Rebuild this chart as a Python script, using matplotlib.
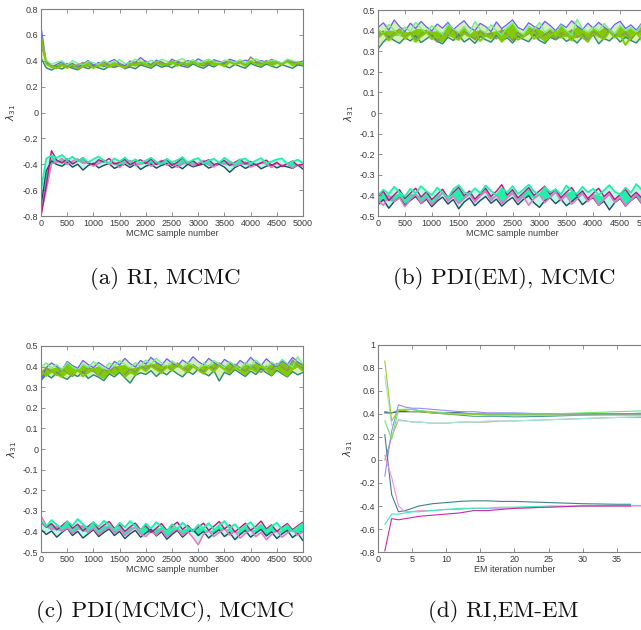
import numpy as np
import matplotlib
matplotlib.use('Agg')
import matplotlib.pyplot as plt
from matplotlib.ticker import FuncFormatter, MultipleLocator

plt.rcParams['axes.unicode_minus'] = False
plt.rcParams['font.family'] = ['Liberation Sans', 'DejaVu Sans']
plt.rcParams['mathtext.fontset'] = 'dejavusans'

# ---- panel (a): RI, MCMC  (values in 1/1000, one every 100 samples) ----
A_TOP_TEAL = [420, 345, 328, 352, 336, 360, 342, 330, 355, 338, 362, 345, 332, 358, 348, 365, 340, 352, 338, 368, 355, 342, 370, 350, 362, 345, 372, 358, 348, 375, 355, 342, 368, 352, 378, 360, 345, 372, 356, 342, 380, 362, 350, 375, 358, 345, 370, 355, 342, 368, 360]
A_TOP_BLUE = [660, 385, 350, 372, 395, 358, 380, 348, 375, 402, 365, 388, 355, 392, 410, 378, 362, 398, 385, 425, 392, 370, 405, 388, 372, 412, 390, 378, 402, 385, 415, 392, 375, 408, 395, 380, 412, 398, 385, 405, 392, 378, 402, 388, 410, 395, 380, 405, 392, 385, 398]
A_TOP_GRAY = [520, 395, 365, 340, 372, 380, 352, 368, 388, 358, 345, 375, 392, 362, 350, 380, 338, 365, 390, 372, 398, 362, 382, 392, 358, 378, 402, 372, 362, 395, 385, 360, 378, 400, 370, 388, 405, 372, 392, 365, 430, 395, 375, 402, 368, 385, 374, 405, 388, 370, 395]
A_TOP_LIGHT = [560, 405, 372, 390, 398, 365, 402, 380, 368, 395, 385, 372, 402, 380, 392, 410, 378, 385, 412, 395, 380, 405, 388, 412, 398, 382, 402, 418, 390, 408, 382, 398, 412, 395, 378, 405, 400, 385, 410, 382, 398, 415, 392, 385, 405, 398, 380, 412, 400, 390, 385]
A_TOP_GREEN = [590, 375, 352, 342, 365, 345, 370, 338, 358, 375, 345, 362, 370, 350, 382, 358, 348, 378, 362, 388, 370, 355, 392, 365, 375, 395, 360, 385, 370, 392, 362, 380, 398, 365, 378, 355, 390, 372, 385, 360, 395, 375, 365, 390, 362, 382, 372, 395, 365, 388, 375]
A_BOT_DARK = [-720, -450, -375, -402, -415, -385, -422, -400, -445, -410, -392, -428, -408, -395, -432, -412, -400, -425, -398, -440, -415, -398, -430, -408, -395, -428, -410, -435, -400, -420, -408, -398, -430, -412, -400, -422, -462, -425, -405, -432, -412, -400, -435, -415, -402, -428, -410, -420, -432, -405, -438]
A_BOT_PINK = [-780, -600, -395, -385, -355, -402, -375, -358, -392, -380, -415, -395, -368, -402, -385, -425, -392, -370, -410, -398, -378, -415, -392, -370, -408, -388, -422, -398, -380, -412, -392, -370, -405, -420, -385, -400, -378, -415, -402, -382, -422, -405, -385, -398, -425, -392, -408, -398, -430, -402, -415]
A_BOT_MAGENTA = [-800, -560, -295, -368, -390, -358, -398, -375, -350, -392, -402, -365, -382, -355, -398, -385, -362, -405, -380, -365, -395, -358, -402, -378, -362, -408, -385, -350, -395, -372, -405, -382, -365, -402, -390, -370, -410, -385, -362, -398, -378, -405, -390, -368, -410, -385, -418, -395, -375, -410, -398]
A_BOT_CYAN = [-600, -355, -335, -350, -328, -368, -342, -375, -350, -385, -360, -340, -372, -392, -355, -378, -348, -385, -362, -392, -370, -350, -382, -398, -358, -385, -368, -345, -390, -365, -352, -395, -372, -358, -388, -350, -378, -398, -365, -355, -392, -372, -352, -395, -378, -362, -355, -398, -380, -365, -390]

# ---- panel (b): PDI(EM), MCMC ----
B_TOP_TEAL = [310, 345, 372, 352, 338, 366, 350, 375, 342, 360, 378, 348, 336, 368, 352, 380, 345, 362, 338, 372, 356, 344, 376, 350, 365, 340, 372, 358, 346, 380, 352, 338, 368, 355, 374, 348, 362, 340, 370, 354, 380, 336, 362, 350, 375, 345, 368, 352, 340, 372, 358]
B_TOP_BLUE = [415, 438, 402, 452, 420, 395, 436, 410, 445, 418, 398, 432, 412, 440, 405, 428, 448, 415, 400, 435, 420, 395, 442, 410, 430, 452, 416, 402, 438, 420, 408, 445, 425, 400, 432, 415, 448, 422, 405, 436, 412, 440, 418, 398, 430, 446, 410, 428, 402, 436, 420]
B_TOP_GRAY = [372, 398, 360, 385, 408, 366, 392, 355, 380, 402, 370, 345, 388, 376, 410, 362, 395, 382, 356, 400, 372, 388, 360, 405, 378, 352, 394, 370, 386, 412, 365, 380, 398, 358, 390, 374, 404, 368, 385, 352, 396, 378, 362, 408, 384, 370, 392, 356, 388, 400, 375]
B_TOP_LIGHT = [405, 385, 430, 402, 376, 418, 395, 440, 410, 388, 425, 400, 380, 432, 408, 392, 420, 385, 445, 405, 390, 428, 400, 378, 415, 438, 398, 382, 422, 405, 440, 392, 410, 385, 428, 400, 378, 455, 410, 392, 420, 398, 435, 405, 385, 425, 400, 415, 390, 432, 405]
B_TOP_GREEN = [365, 390, 352, 378, 400, 360, 385, 345, 372, 395, 358, 380, 348, 392, 368, 355, 386, 370, 398, 350, 378, 362, 392, 345, 375, 388, 356, 370, 395, 360, 382, 348, 372, 398, 365, 380, 352, 390, 368, 345, 385, 372, 358, 395, 366, 380, 330, 370, 390, 355, 378]
B_BOT_DARK = [-445, -420, -462, -430, -410, -448, -425, -405, -440, -418, -455, -428, -408, -442, -420, -465, -432, -412, -450, -425, -405, -438, -418, -452, -428, -410, -445, -420, -402, -436, -458, -425, -412, -440, -418, -450, -430, -408, -445, -422, -412, -448, -428, -470, -435, -415, -452, -425, -405, -440, -420]
B_BOT_PINK = [-425, -448, -400, -430, -412, -455, -420, -395, -438, -410, -445, -418, -385, -428, -405, -440, -415, -392, -432, -402, -380, -425, -398, -440, -412, -390, -430, -405, -448, -415, -395, -435, -410, -385, -425, -400, -442, -418, -392, -430, -405, -448, -420, -395, -435, -410, -450, -425, -398, -438, -412]
B_BOT_MAGENTA = [-405, -380, -425, -398, -372, -415, -390, -365, -408, -382, -420, -395, -370, -410, -385, -360, -402, -378, -418, -392, -365, -405, -380, -348, -398, -372, -412, -388, -362, -400, -378, -355, -395, -370, -410, -385, -362, -402, -378, -415, -390, -365, -405, -382, -420, -395, -370, -408, -385, -412, -392]
B_BOT_CYAN = [-400, -372, -392, -358, -385, -405, -368, -390, -355, -380, -398, -362, -388, -412, -370, -350, -385, -395, -365, -388, -352, -378, -400, -366, -385, -355, -392, -372, -348, -380, -398, -360, -385, -370, -395, -352, -378, -392, -358, -385, -368, -398, -375, -350, -382, -395, -362, -388, -345, -372, -390]

# ---- panel (c): PDI(MCMC), MCMC ----
C_TOP_TEAL = [335, 362, 345, 370, 350, 338, 365, 352, 375, 342, 360, 348, 332, 365, 350, 372, 345, 320, 358, 370, 362, 380, 352, 375, 360, 385, 365, 350, 378, 362, 388, 370, 355, 380, 330, 372, 360, 385, 368, 352, 378, 362, 390, 370, 355, 382, 365, 350, 376, 360, 372]
C_TOP_BLUE = [330, 395, 418, 400, 385, 425, 405, 392, 430, 410, 395, 420, 402, 388, 425, 408, 440, 415, 398, 430, 412, 445, 420, 405, 438, 418, 400, 432, 415, 448, 425, 408, 440, 420, 402, 435, 418, 400, 430, 412, 445, 420, 405, 438, 415, 400, 428, 410, 445, 422, 408]
C_TOP_GRAY = [368, 395, 375, 358, 390, 370, 352, 385, 365, 398, 378, 355, 388, 370, 402, 380, 360, 392, 372, 405, 388, 410, 392, 378, 405, 385, 418, 398, 380, 410, 392, 375, 405, 388, 418, 400, 382, 412, 395, 378, 408, 390, 372, 402, 385, 415, 398, 380, 432, 405, 390]
C_TOP_LIGHT = [400, 418, 392, 410, 385, 420, 398, 380, 412, 395, 425, 405, 388, 418, 400, 430, 410, 392, 420, 402, 432, 412, 440, 418, 400, 428, 410, 395, 422, 405, 385, 418, 400, 430, 412, 395, 425, 405, 388, 420, 402, 432, 410, 392, 422, 405, 435, 415, 398, 448, 410]
C_TOP_GREEN = [380, 355, 375, 362, 348, 378, 360, 385, 352, 372, 390, 358, 345, 375, 362, 385, 350, 372, 360, 395, 378, 402, 385, 368, 398, 380, 410, 388, 372, 400, 382, 365, 395, 375, 405, 385, 368, 398, 378, 362, 392, 375, 405, 385, 360, 395, 372, 355, 388, 400, 378]
C_BOT_DARK = [-390, -415, -398, -428, -405, -385, -420, -400, -432, -412, -392, -425, -405, -388, -420, -400, -435, -412, -395, -428, -408, -390, -422, -402, -438, -415, -395, -428, -405, -390, -420, -400, -432, -410, -392, -425, -405, -440, -415, -395, -428, -408, -390, -422, -402, -435, -412, -395, -430, -410, -445]
C_BOT_PINK = [-325, -370, -392, -375, -400, -382, -410, -388, -372, -405, -385, -415, -395, -378, -408, -388, -420, -398, -380, -412, -425, -400, -418, -392, -428, -405, -388, -420, -400, -430, -465, -415, -398, -425, -405, -388, -418, -400, -432, -410, -392, -425, -405, -440, -415, -398, -428, -408, -390, -420, -402]
C_BOT_MAGENTA = [-355, -380, -362, -392, -372, -350, -385, -365, -398, -375, -355, -390, -370, -352, -385, -368, -400, -378, -360, -392, -372, -405, -385, -362, -395, -375, -355, -390, -370, -400, -380, -360, -395, -375, -352, -388, -368, -402, -382, -360, -395, -375, -350, -388, -368, -400, -380, -362, -392, -372, -355]
C_BOT_CYAN = [-350, -375, -345, -368, -385, -352, -372, -340, -365, -388, -355, -378, -348, -370, -392, -358, -380, -350, -375, -395, -362, -385, -355, -378, -400, -365, -388, -358, -380, -398, -368, -385, -360, -392, -372, -350, -385, -365, -395, -372, -355, -388, -368, -398, -375, -358, -390, -370, -400, -378, -362]

# ---- panel (d): RI, EM-EM ----
D_ITER = [1, 2, 3, 4, 5, 6, 8, 10, 12, 14, 16, 18, 20, 25, 30, 35, 40]
D_ITER_SHORT = [1, 2, 3, 4, 5, 6, 8, 10, 12, 14, 16, 18, 20, 25, 30, 35, 37]
D_GREEN = [0.86, 0.34, 0.43, 0.43, 0.42, 0.42, 0.41, 0.40, 0.40, 0.40, 0.39, 0.39, 0.39, 0.39, 0.39, 0.39, 0.39]
D_LIGHTGREEN = [0.34, 0.18, 0.44, 0.44, 0.44, 0.43, 0.42, 0.41, 0.40, 0.40, 0.40, 0.40, 0.40, 0.40, 0.41, 0.42, 0.43]
D_PURPLE = [-0.14, 0.25, 0.48, 0.46, 0.45, 0.45, 0.44, 0.43, 0.42, 0.42, 0.41, 0.41, 0.41, 0.40, 0.40, 0.40, 0.40]
D_TEAL = [0.42, 0.41, 0.43, 0.44, 0.44, 0.43, 0.41, 0.40, 0.39, 0.38, 0.38, 0.38, 0.375, 0.38, 0.39, 0.40, 0.41]
D_OLIVE = [0.0, 0.20, 0.35, 0.34, 0.33, 0.33, 0.32, 0.32, 0.33, 0.33, 0.33, 0.34, 0.34, 0.35, 0.36, 0.37, 0.37]
D_PALECYAN = [0.73, 0.30, 0.34, 0.34, 0.33, 0.33, 0.32, 0.32, 0.33, 0.33, 0.34, 0.34, 0.34, 0.35, 0.36, 0.37, 0.38]
D_NAVY = [0.41, 0.41, 0.42, 0.42, 0.42, 0.42, 0.41, 0.41, 0.41, 0.40, 0.40, 0.40, 0.40, 0.40, 0.40, 0.40, 0.40]
D_MAGENTA = [-0.79, -0.51, -0.52, -0.51, -0.50, -0.49, -0.48, -0.47, -0.46, -0.44, -0.44, -0.43, -0.42, -0.41, -0.40, -0.40, -0.40]
D_DARKTEAL = [0.22, -0.30, -0.45, -0.44, -0.42, -0.40, -0.38, -0.37, -0.36, -0.355, -0.355, -0.36, -0.36, -0.37, -0.38, -0.385, -0.385]
D_CYAN = [-0.56, -0.47, -0.47, -0.46, -0.45, -0.45, -0.44, -0.43, -0.42, -0.42, -0.42, -0.41, -0.41, -0.40, -0.40, -0.395, -0.395]
D_PINK = [0.04, -0.15, -0.40, -0.45, -0.45, -0.44, -0.44, -0.43, -0.43, -0.42, -0.42, -0.42, -0.42, -0.41, -0.40, -0.40, -0.40]

CAPTIONS = ['(a) RI, MCMC', '(b) PDI(EM), MCMC', '(c) PDI(MCMC), MCMC', '(d) RI,EM-EM']

TEAL = '#2b8a78'
BLUE = '#6a5cff'
GRAY = '#8e8e72'
LIGHT = '#70ee90'
GREEN = '#80cc00'
DARK = '#1c4a66'
PINK = '#f070cc'
MAGENTA = '#c0108a'
CYAN = '#22f0a8'
AX_GRAY = '#7f7f7f'

tick_fmt = FuncFormatter(lambda v, p: '%g' % round(v, 6))


def style_axes(ax):
    for s in ax.spines.values():
        s.set_color(AX_GRAY)
        s.set_linewidth(0.8)
    ax.tick_params(direction='in', length=3, width=0.6, color=AX_GRAY,
                   labelsize=6.5, labelcolor='#3a3a3a', pad=2,
                   top=True, right=True)
    ax.yaxis.set_major_formatter(tick_fmt)
    ax.set_ylabel(r'$\lambda_{31}$', fontsize=7.5, color='#3a3a3a', labelpad=3)


def draw_group(ax, chains):
    n = min(len(c[0]) for c in chains)
    stack = np.sort(np.array([c[0][:n] for c in chains]) / 1000.0, axis=0)
    x = np.linspace(0, 5000, n)
    dom = chains[-1][1]
    # faint haze over the full spread of the chains
    ax.fill_between(x, stack[0], stack[-1], color=dom, alpha=0.3, lw=0)
    for vals, col, lw in chains[:-1]:
        y = np.array(vals) / 1000.0
        ax.plot(np.linspace(0, 5000, len(y)), y, color=col, lw=lw)
    # dominant colour as a solid mass over the middle of the spread
    ax.fill_between(x, stack[1], stack[-2], color=dom, lw=0)
    vals, col, lw = chains[-1]
    y = np.array(vals) / 1000.0
    ax.plot(np.linspace(0, 5000, len(y)), y, color=col, lw=lw)


def draw_traces(ax, top, bot, ylo, yhi, ystep):
    draw_group(ax, top)
    draw_group(ax, bot)
    ax.set_xlim(0, 5000)
    ax.set_ylim(ylo, yhi)
    ax.xaxis.set_major_locator(MultipleLocator(500))
    ax.yaxis.set_major_locator(MultipleLocator(ystep))
    ax.set_xlabel('MCMC sample number', fontsize=6.5, color='#3a3a3a', labelpad=1)
    style_axes(ax)


def chain_set(teal, blue, gray, light, green):
    return [(teal, TEAL, 1.0), (blue, BLUE, 0.9), (gray, GRAY, 1.0),
            (light, LIGHT, 0.9), (green, GREEN, 1.3)]


def low_set(dark, pink, magenta, cyan):
    return [(dark, DARK, 1.0), (pink, PINK, 1.1), (magenta, MAGENTA, 1.0),
            (cyan, CYAN, 1.3)]


fig = plt.figure(figsize=(6.41, 6.30), dpi=100)

ax_a = fig.add_axes([0.064, 0.6571, 0.4087, 0.3286])
draw_traces(ax_a,
            chain_set(A_TOP_TEAL, A_TOP_BLUE, A_TOP_GRAY, A_TOP_LIGHT, A_TOP_GREEN),
            low_set(A_BOT_DARK, A_BOT_PINK, A_BOT_MAGENTA, A_BOT_CYAN),
            -0.8, 0.8, 0.2)

ax_b = fig.add_axes([0.5897, 0.6571, 0.4197, 0.327])
draw_traces(ax_b,
            chain_set(B_TOP_TEAL, B_TOP_BLUE, B_TOP_GRAY, B_TOP_LIGHT, B_TOP_GREEN),
            low_set(B_BOT_DARK, B_BOT_PINK, B_BOT_MAGENTA, B_BOT_CYAN),
            -0.5, 0.5, 0.1)

ax_c = fig.add_axes([0.064, 0.1238, 0.4087, 0.327])
draw_traces(ax_c,
            chain_set(C_TOP_TEAL, C_TOP_BLUE, C_TOP_GRAY, C_TOP_LIGHT, C_TOP_GREEN),
            low_set(C_BOT_DARK, C_BOT_PINK, C_BOT_MAGENTA, C_BOT_CYAN),
            -0.5, 0.5, 0.1)

ax_d = fig.add_axes([0.5897, 0.1238, 0.4259, 0.3286])
d_lines = [
    (D_ITER, D_OLIVE, '#a8a884'), (D_ITER, D_PALECYAN, '#a8e4e0'),
    (D_ITER, D_NAVY, '#23307a'), (D_ITER, D_TEAL, '#4a9e96'),
    (D_ITER, D_PURPLE, '#9a88ff'), (D_ITER, D_LIGHTGREEN, '#6ee86e'),
    (D_ITER, D_GREEN, '#9ccc2a'),
    (D_ITER_SHORT, D_DARKTEAL, '#3f7f92'), (D_ITER, D_PINK, '#f090e0'),
    (D_ITER, D_CYAN, '#40e8c0'), (D_ITER_SHORT, D_MAGENTA, '#c82aa8'),
]
for xs, ys, col in d_lines:
    ax_d.plot(xs, ys, color=col, lw=0.8)
ax_d.set_xlim(0, 40)
ax_d.set_ylim(-0.8, 1.0)
ax_d.xaxis.set_major_locator(MultipleLocator(5))
ax_d.yaxis.set_major_locator(MultipleLocator(0.2))
ax_d.set_xlabel('EM iteration number', fontsize=6.5, color='#3a3a3a', labelpad=1)
style_axes(ax_d)

caption_pos = [(0.2574, 0.5587), (0.786, 0.5587), (0.2574, 0.0286), (0.785, 0.0286)]
for (cx, cy), txt in zip(caption_pos, CAPTIONS):
    fig.text(cx, cy, txt, ha='center', va='center', fontsize=16.5,
             family=['cmr10', 'DejaVu Serif'], color='#111111')

fig.savefig('out.png', dpi=100)
